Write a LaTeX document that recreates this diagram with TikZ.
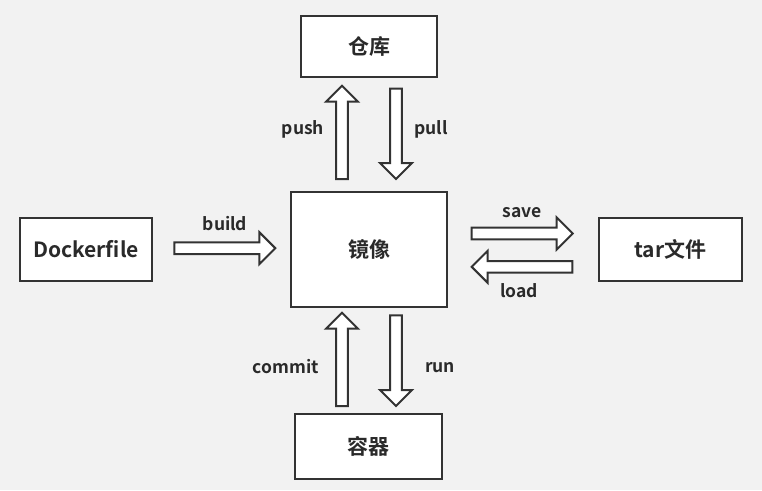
\documentclass[tikz,border=0pt]{standalone}
\usepackage{fontspec}
\setmainfont{Noto Sans CJK SC}[BoldFont={Noto Sans CJK SC Bold}]
\usetikzlibrary{calc}
\definecolor{bg}{HTML}{F2F2F2}
\definecolor{ink}{HTML}{333333}
\definecolor{txt}{HTML}{2A2A2A}
\tikzset{
  box/.style={draw=ink, line width=2pt, fill=white, inner sep=0pt, font=\fontsize{21}{25}\selectfont\bfseries, text=txt},
  lbl/.style={font=\fontsize{17.5}{21}\selectfont\bfseries, text=txt, inner sep=0pt},
  barrow/.style={draw=ink, line width=2pt, fill=white, line join=miter},
}
\newcommand{\blockarr}[2]{%
  \coordinate (hb) at ($(#2)!16pt!(#1)$);
  \draw[barrow] ($(#1)!5.8pt!90:(#2)$) -- ($(hb)!5.8pt!90:(#2)$) -- ($(hb)!16pt!90:(#2)$) -- (#2)
    -- ($(hb)!16pt!-90:(#2)$) -- ($(hb)!5.8pt!-90:(#2)$) -- ($(#1)!5.8pt!-90:(#2)$) -- cycle;
}
\begin{document}
\begin{tikzpicture}[x=1pt,y=-1pt]
\useasboundingbox (0,0) rectangle (762,490);
\fill[bg] (0,0) rectangle (762,490);
% boxes
\node[box, minimum width=136pt, minimum height=61pt] (repo) at (369,46.5) {仓库};
\node[box, minimum width=156pt, minimum height=115pt] (mirror) at (369,249.5) {镜像};
\node[box, minimum width=132pt, minimum height=63pt] (dockerfile) at (86,249.5) {Dockerfile};
\node[box, minimum width=143pt, minimum height=63pt] (tar) at (670.5,249.5) {tar文件};
\node[box, minimum width=147pt, minimum height=65pt] (container) at (368.5,446.5) {容器};
% arrow endpoints
\coordinate (pushS) at (342,179);   \coordinate (pushT) at (342,85.7);
\coordinate (pullS) at (396,88.7);  \coordinate (pullT) at (396,179);
\coordinate (buildS) at (174.3,248.2); \coordinate (buildT) at (275.3,248.2);
\coordinate (saveS) at (471.7,233.5); \coordinate (saveT) at (572.7,233.5);
\coordinate (loadS) at (572.3,266.8); \coordinate (loadT) at (471.7,266.8);
\coordinate (commitS) at (342,406); \coordinate (commitT) at (342,312.7);
\coordinate (runS) at (396,315.3);  \coordinate (runT) at (396,406);
\blockarr{pushS}{pushT}
\blockarr{pullS}{pullT}
\blockarr{buildS}{buildT}
\blockarr{saveS}{saveT}
\blockarr{loadS}{loadT}
\blockarr{commitS}{commitT}
\blockarr{runS}{runT}
% labels
\node[lbl] (lpush) at (303,129.5) {push};
\node[lbl] (lpull) at (431,129.5) {pull};
\node[lbl] (lbuild) at (225,224) {build};
\node[lbl] (lsave) at (522,213) {save};
\node[lbl] (lload) at (519,291) {load};
\node[lbl] (lcommit) at (286,367) {commit};
\node[lbl] (lrun) at (440,367.5) {run};
\end{tikzpicture}
\end{document}
